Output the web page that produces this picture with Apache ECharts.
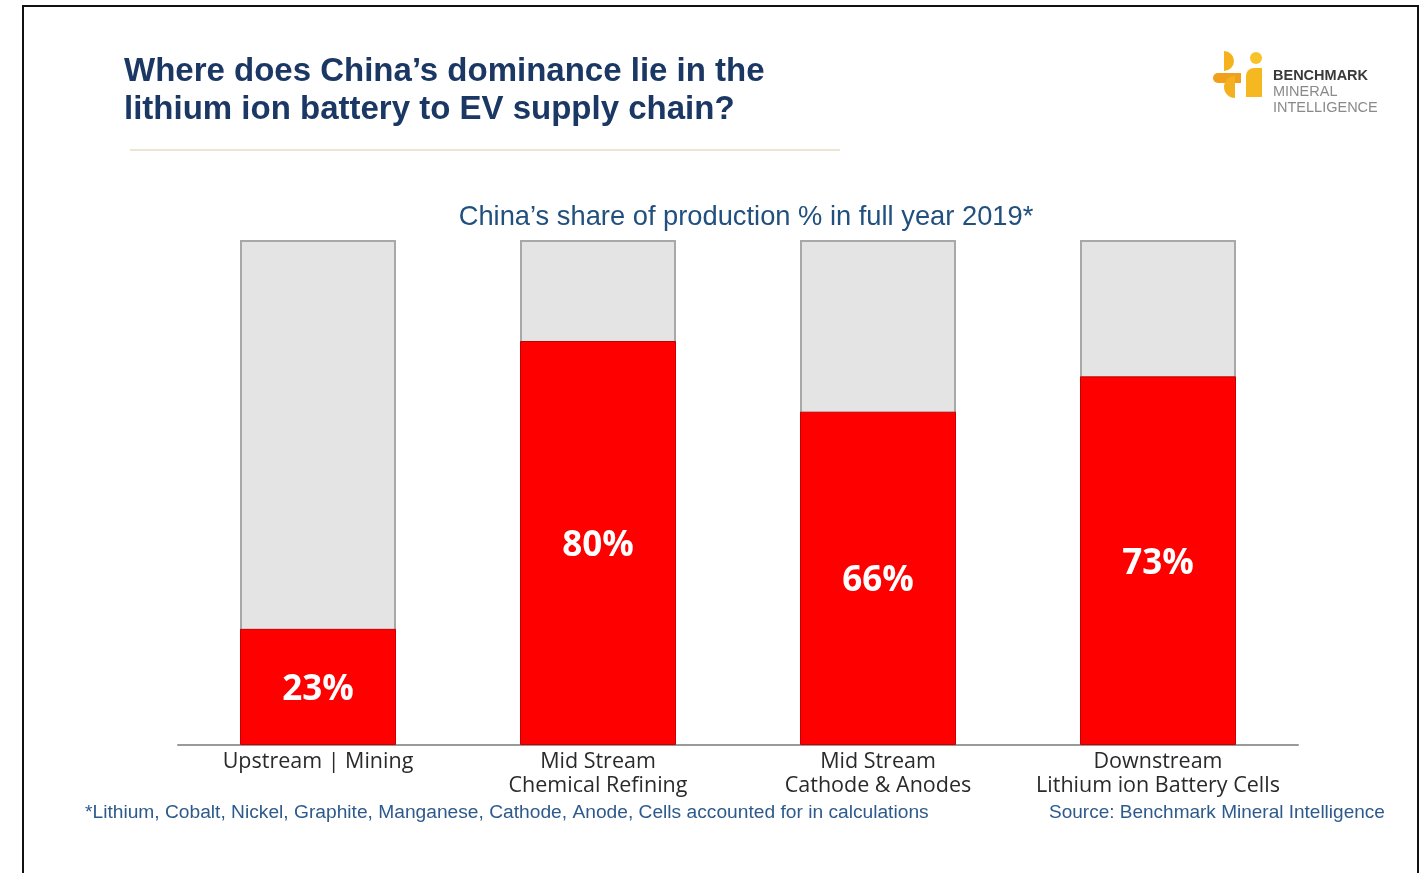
<!DOCTYPE html>
<html><head><meta charset="utf-8">
<script src="https://cdn.jsdelivr.net/npm/echarts@6/dist/echarts.min.js"></script>
<style>html,body{margin:0;padding:0;background:#fff;}#c{width:1425px;height:873px;}</style>
</head><body><div id="c"></div>
<script>
const categories = ['Upstream | Mining', 'Mid Stream\nChemical Refining', 'Mid Stream\nCathode & Anodes', 'Downstream\nLithium ion Battery Cells'];
const chinaShare = [23, 80, 66, 73];
const totalShare = [100, 100, 100, 100];
const titleText = 'Where does China\u2019s dominance lie in the\nlithium ion battery to EV supply chain?';
const subtitleText = 'China\u2019s share of production % in full year 2019*';
const footnoteText = '*Lithium, Cobalt, Nickel, Graphite, Manganese, Cathode, Anode, Cells accounted for in calculations';
const sourceText = 'Source: Benchmark Mineral Intelligence';

const chart = echarts.init(document.getElementById('c'));
chart.setOption({
  backgroundColor: '#fff',
  animation: false,
  title: [
    { text: titleText, left: 124, top: 53, padding: 0,
      textStyle: { fontFamily: 'Liberation Sans', fontSize: 33, fontWeight: 'bold', color: '#1b3764', lineHeight: 38 } }
  ],
  grid: { left: 178, right: 127, top: 240, bottom: 128 },
  xAxis: {
    type: 'category', data: categories,
    axisLine: { lineStyle: { color: '#9a9a9a', width: 2 } },
    axisTick: { show: false },
    axisLabel: { fontFamily: 'Open Sans', fontSize: 21.5, color: '#2a2a2a', lineHeight: 24, margin: 5, interval: 0 }
  },
  yAxis: { type: 'value', min: 0, max: 100, show: false, splitLine: { show: false } },
  series: [
    { type: 'bar', data: totalShare, barWidth: 156, barGap: '-100%', silent: true, z: 1,
      itemStyle: { color: '#e4e4e4', borderColor: '#a8a8a8', borderWidth: 2 } },
    { type: 'bar', data: chinaShare, barWidth: 156, z: 2,
      itemStyle: { color: '#ff0000', borderColor: '#c40000', borderWidth: 1 },
      label: { show: true, position: 'inside', formatter: '{c}%', color: '#fff', offset: [0, 3],
        fontFamily: 'Open Sans', fontWeight: 'bold', fontSize: 35 } }
  ],
  graphic: [
    { type: 'rect', shape: { x: 23, y: 6, width: 1395, height: 900 }, style: { fill: 'none', stroke: '#111', lineWidth: 2 }, z: 10 },
    { type: 'line', shape: { x1: 130, y1: 150, x2: 840, y2: 150 }, style: { stroke: '#e6dcc2', lineWidth: 1.5 } },
    { type: 'text', x: 746, y: 217, style: { text: subtitleText, font: '27.3px "Liberation Sans"', fill: '#22507e', textAlign: 'center', textVerticalAlign: 'middle' } },
    { type: 'text', x: 85, y: 813, style: { text: footnoteText, font: '19.2px "Liberation Sans"', fill: '#2d5a8c', textVerticalAlign: 'middle' } },
    { type: 'text', x: 1049, y: 813, style: { text: sourceText, font: '19px "Liberation Sans"', fill: '#2d5a8c', textVerticalAlign: 'middle' } },
    // logo
    { type: 'sector', shape: { cx: 1224, cy: 61, r: 10, r0: 0, startAngle: -Math.PI / 2, endAngle: Math.PI / 2 }, style: { fill: '#f6b21c' } },
    { type: 'circle', shape: { cx: 1256, cy: 58, r: 6 }, style: { fill: '#f7c22a' } },
    { type: 'rect', shape: { x: 1213, y: 73, width: 28, height: 10, r: [5, 0, 0, 5] }, style: { fill: '#f0a01a' } },
    { type: 'sector', shape: { cx: 1235, cy: 87, r: 11, r0: 0, startAngle: Math.PI / 2, endAngle: Math.PI * 1.5 }, style: { fill: '#f4b020' } },
    { type: 'rect', shape: { x: 1246, y: 68, width: 16, height: 29, r: [8, 0, 0, 0] }, style: { fill: '#f6b820' } },
    { type: 'text', x: 1273, y: 76, style: { text: 'BENCHMARK', font: 'bold 14.5px "Liberation Sans"', fill: '#3a3a3a', textVerticalAlign: 'middle' } },
    { type: 'text', x: 1273, y: 92, style: { text: 'MINERAL', font: '14.5px "Liberation Sans"', fill: '#8a8a8a', textVerticalAlign: 'middle' } },
    { type: 'text', x: 1273, y: 108, style: { text: 'INTELLIGENCE', font: '14.5px "Liberation Sans"', fill: '#8a8a8a', textVerticalAlign: 'middle' } }
  ]
});
</script></body></html>
